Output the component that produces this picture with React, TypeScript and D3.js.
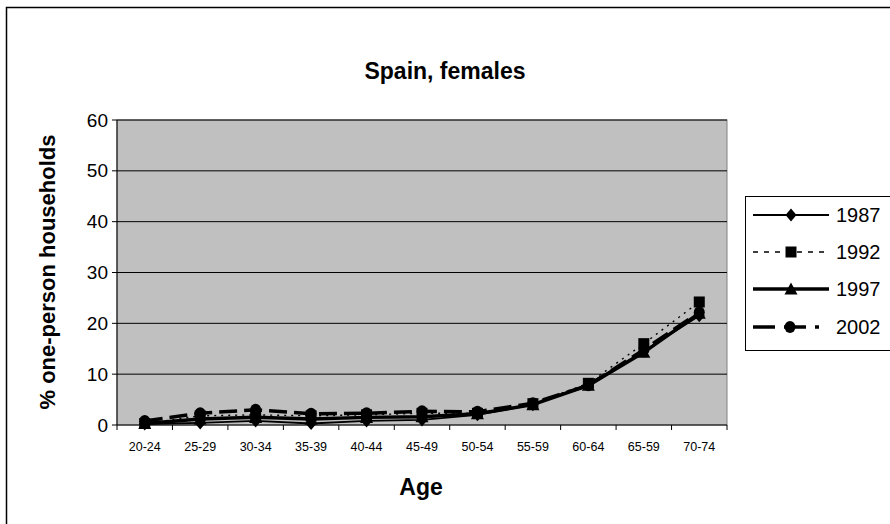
import React from "react";
import * as d3 from "d3";

const categories = ["20-24", "25-29", "30-34", "35-39", "40-44", "45-49", "50-54", "55-59", "60-64", "65-59", "70-74"];
const yTicks = [0, 10, 20, 30, 40, 50, 60];
const s1987 = [0.2, 0.4, 0.8, 0.3, 0.8, 1.0, 2.0, 4.0, 8.0, 14.5, 21.5];
const s1992 = [0.3, 1.8, 2.0, 1.8, 2.0, 2.3, 2.3, 4.2, 8.2, 16.0, 24.2];
const s1997 = [0.3, 1.2, 1.5, 1.2, 1.5, 1.6, 2.2, 4.0, 7.8, 14.3, 22.0];
const s2002 = [0.8, 2.3, 3.0, 2.2, 2.3, 2.7, 2.6, 4.3, 7.8, 14.8, 22.2];
const seriesNames = ["1987", "1992", "1997", "2002"];

const FONT = "Liberation Sans, Arial, sans-serif";

export default function App() {
  const left = 117, right = 727, top = 120, bottom = 425;
  const x = d3.scaleBand().domain(categories).range([left, right]);
  const y = d3.scaleLinear().domain([0, 60]).range([bottom, top]);
  const series = [
    { name: seriesNames[0], data: s1987, width: 1.8, dash: "", marker: "diamond" },
    { name: seriesNames[1], data: s1992, width: 1.4, dash: "2,5", marker: "square" },
    { name: seriesNames[2], data: s1997, width: 3.5, dash: "", marker: "triangle" },
    { name: seriesNames[3], data: s2002, width: 3.5, dash: "18,7", marker: "circle" },
  ];
  const line = d3.line<number>()
    .x((_, i) => (x(categories[i]) as number) + x.bandwidth() / 2)
    .y((d) => y(d));

  const marker = (type: string, cx: number, cy: number, key: string) => {
    if (type === "diamond") {
      return <path key={key} d={`M${cx},${cy - 6.5}L${cx + 5.5},${cy}L${cx},${cy + 6.5}L${cx - 5.5},${cy}Z`} fill="#000" />;
    }
    if (type === "square") {
      return <rect key={key} x={cx - 5.5} y={cy - 5.5} width={11} height={11} fill="#000" />;
    }
    if (type === "triangle") {
      return <path key={key} d={`M${cx},${cy - 6.5}L${cx + 6.5},${cy + 5.5}L${cx - 6.5},${cy + 5.5}Z`} fill="#000" />;
    }
    return <ellipse key={key} cx={cx} cy={cy} rx={5.5} ry={6} fill="#000" />;
  };

  const legendY = [215, 252, 289, 327];

  return (
    <svg width={890} height={524} style={{ position: "absolute", left: 0, top: 0 }} fontFamily={FONT}>
      <rect x={0} y={0} width={890} height={524} fill="#fff" />
      <rect x={6.5} y={7.5} width={900} height={540} fill="#fff" stroke="#000" strokeWidth={1.5} />
      <text x={445} y={79} textAnchor="middle" fontSize={23} fontWeight="bold">Spain, females</text>

      <rect x={left} y={top} width={right - left} height={bottom - top} fill="#c0c0c0" stroke="#808080" strokeWidth={1} />
      {yTicks.filter((t) => t > 0).map((t) => (
        <line key={"g" + t} x1={left} x2={right} y1={y(t)} y2={y(t)} stroke="#000" strokeWidth={1} />
      ))}
      <line x1={left} x2={left} y1={top} y2={bottom} stroke="#000" strokeWidth={1} />
      <line x1={left} x2={right} y1={bottom} y2={bottom} stroke="#000" strokeWidth={1} />
      {yTicks.map((t) => (
        <g key={"yt" + t}>
          <line x1={left - 5} x2={left} y1={y(t)} y2={y(t)} stroke="#000" />
          <text x={108} y={y(t) + 6.5} textAnchor="end" fontSize={19}>{t}</text>
        </g>
      ))}
      {categories.map((c, i) => (
        <line key={"xt" + i} x1={x(c) as number} x2={x(c) as number} y1={bottom} y2={bottom + 5} stroke="#000" />
      ))}
      <line x1={right} x2={right} y1={bottom} y2={bottom + 5} stroke="#000" />
      {categories.map((c) => (
        <text key={"xl" + c} x={(x(c) as number) + x.bandwidth() / 2} y={451} textAnchor="middle" fontSize={12.5}>{c}</text>
      ))}
      <text x={421} y={495} textAnchor="middle" fontSize={23} fontWeight="bold">Age</text>
      <text transform={`translate(55,272) rotate(-90)`} textAnchor="middle" fontSize={22} fontWeight="bold">% one-person households</text>

      {series.map((s) => (
        <g key={s.name}>
          <path d={line(s.data) as string} fill="none" stroke="#000" strokeWidth={s.width} strokeDasharray={s.dash || undefined} />
          {s.data.map((v, i) => marker(s.marker, (x(categories[i]) as number) + x.bandwidth() / 2, y(v), s.name + i))}
        </g>
      ))}

      <rect x={745.5} y={196.5} width={160} height={154} fill="#fff" stroke="#000" strokeWidth={1} />
      {series.map((s, i) => (
        <g key={"lg" + s.name}>
          <line x1={753} x2={s.name === "2002" ? 819 : 829} y1={legendY[i]} y2={legendY[i]} stroke="#000" strokeWidth={s.width} strokeDasharray={s.dash ? (s.name === "2002" ? "22,9" : "5,6") : undefined} />
          {marker(s.marker, s.name === "2002" ? 790 : 791, legendY[i], "lm" + i)}
          <text x={836} y={legendY[i] + 7} fontSize={20}>{s.name}</text>
        </g>
      ))}
    </svg>
  );
}
